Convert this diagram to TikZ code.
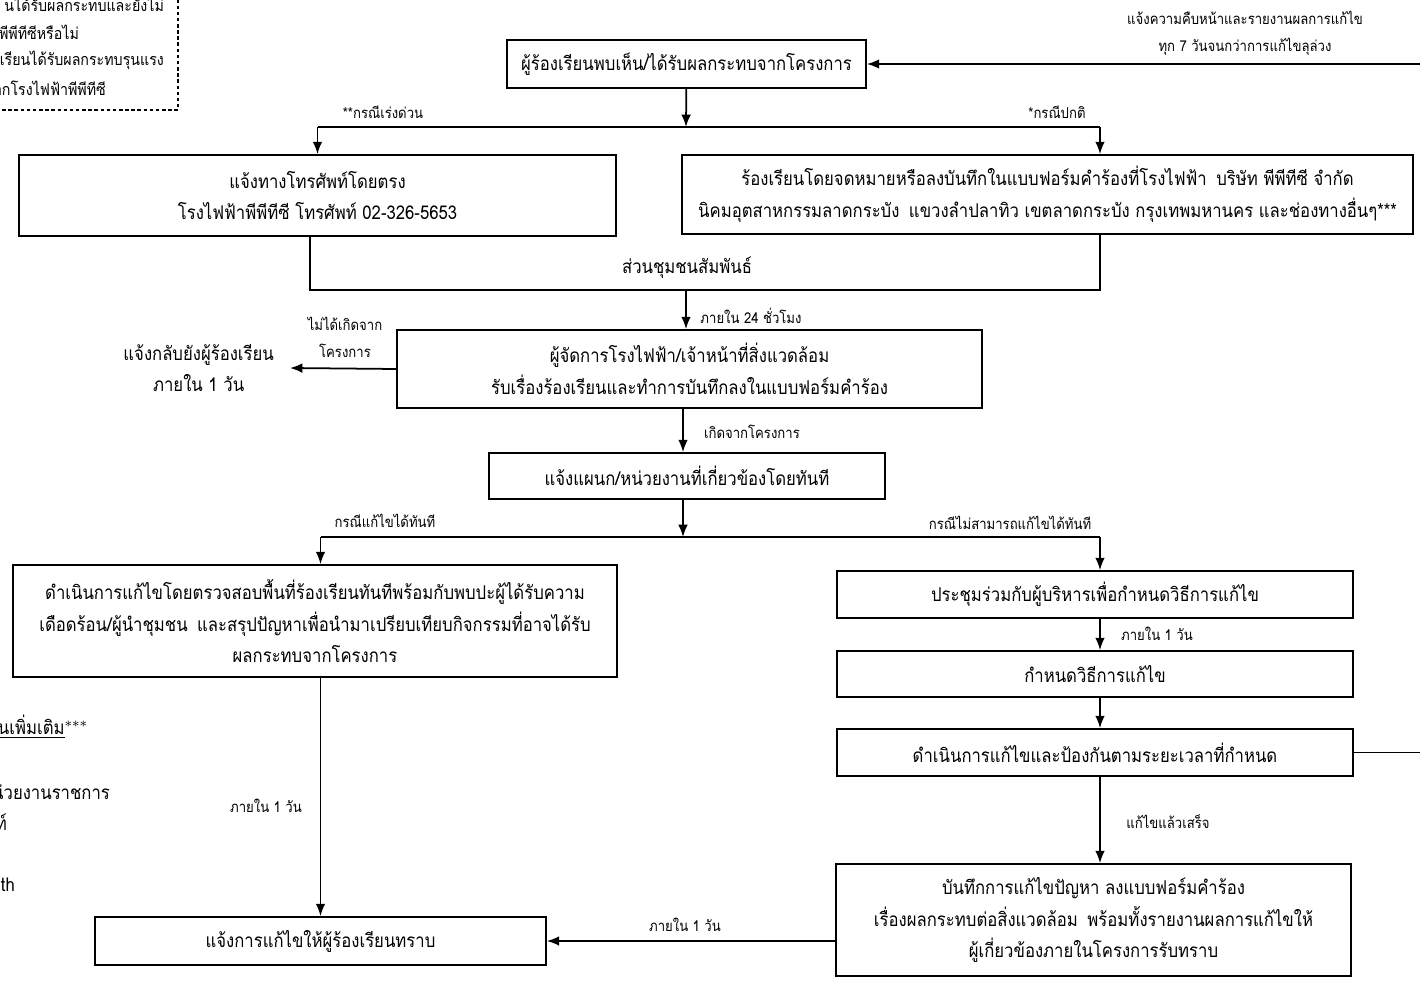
\documentclass[tikz,border=0pt]{standalone}
\usepackage{fontspec}
\setmainfont{Loma}[Script=Thai, FakeStretch=0.88]
\usetikzlibrary{arrows.meta}
\usetikzlibrary{positioning}

\newcommand{\boxfont}{\fontsize{10.8}{18}\selectfont}
\newcommand{\notefont}{\fontsize{8.5}{15.5}\selectfont}
\newcommand{\legendfont}{\fontsize{9.2}{15.5}\selectfont}

\tikzset{
	stepbox/.style={draw, line width=1pt, align=center, inner sep=0pt, font=\boxfont},
	note/.style={align=center, inner sep=1pt, font=\notefont},
	flow/.style={line width=1pt, -{Latex[length=7pt,width=5.5pt]}},
	link/.style={line width=1pt}
}

\begin{document}
\begin{tikzpicture}[x=0.02cm, y=-0.02cm]
		\useasboundingbox (0,0) rectangle (1420,983);
		\clip (0,0) rectangle (1420,983);
		
		%legend (cut at the page edge)
		\draw[line width=0.7pt, dash pattern=on 2pt off 1.5pt] (-30,-30) rectangle (178,110);
		\node[note, font=\legendfont, anchor=east] (lg1) at (166,4) {นได้รับผลกระทบและยังไม่};
		\node[note, font=\legendfont, anchor=east] (lg2) at (81,32) {พีพีทีซีหรือไม่};
		\node[note, font=\legendfont, anchor=east] (lg3) at (166,60) {เรียนได้รับผลกระทบรุนแรง};
		\node[note, font=\legendfont, anchor=east] (lg4) at (108,88) {ากโรงไฟฟ้าพีพีทีซี};
		
		%left column text (cut at the page edge)
		\node[note, anchor=east, font=\boxfont] (more) at (90,727) {\underline{นเพิ่มเติม}$^{***}$};
		\node[note, anchor=east, font=\boxfont] (gov) at (112,792) {น่วยงานราชการ};
		\node[note, anchor=east, font=\boxfont] (gov2) at (9,822) {ท์};
		\node[note, anchor=east, font=\boxfont] (web) at (17,885) {th};
		
		%boxes
		\node[stepbox, minimum width=7.18cm, minimum height=0.96cm] (top) at (686.5,64) {ผู้ร้องเรียนพบเห็น/ได้รับผลกระทบจากโครงการ};
		\node[stepbox, minimum width=11.94cm, minimum height=1.62cm] (phone) at (317.5,195.5) {แจ้งทางโทรศัพท์โดยตรง\\โรงไฟฟ้าพีพีทีซี โทรศัพท์ 02-326-5653};
		\node[stepbox, minimum width=14.62cm, minimum height=1.58cm] (letter) at (1047.5,194.5) {ร้องเรียนโดยจดหมายหรือลงบันทึกในแบบฟอร์มคำร้องที่โรงไฟฟ้า\enspace บริษัท พีพีทีซี จำกัด\\นิคมอุตสาหกรรมลาดกระบัง\enspace แขวงลำปลาทิว เขตลาดกระบัง กรุงเทพมหานคร และช่องทางอื่นๆ***};
		\node[stepbox, minimum width=11.7cm, minimum height=1.56cm] (record) at (689.5,369) {ผู้จัดการโรงไฟฟ้า/เจ้าหน้าที่สิ่งแวดล้อม\\รับเรื่องร้องเรียนและทำการบันทึกลงในแบบฟอร์มคำร้อง};
		\node[stepbox, minimum width=7.92cm, minimum height=0.92cm] (notify) at (687,476) {แจ้งแผนก/หน่วยงานที่เกี่ยวข้องโดยทันที};
		\node[stepbox, minimum width=12.08cm, minimum height=2.24cm] (fixnow) at (315,621) {ดำเนินการแก้ไขโดยตรวจสอบพื้นที่ร้องเรียนทันทีพร้อมกับพบปะผู้ได้รับความ\\เดือดร้อน/ผู้นำชุมชน\enspace และสรุปปัญหาเพื่อนำมาเปรียบเทียบกิจกรรมที่อาจได้รับ\\ผลกระทบจากโครงการ};
		\node[stepbox, minimum width=9.02cm, minimum height=0.96cm] (inform) at (320.5,941) {แจ้งการแก้ไขให้ผู้ร้องเรียนทราบ};
		\node[stepbox, minimum width=10.32cm, minimum height=0.94cm] (meet) at (1095,594.5) {ประชุมร่วมกับผู้บริหารเพื่อกำหนดวิธีการแก้ไข};
		\node[stepbox, minimum width=10.32cm, minimum height=0.92cm] (method) at (1095,674) {กำหนดวิธีการแก้ไข};
		\node[stepbox, minimum width=10.32cm, minimum height=0.94cm] (act) at (1095,752.5) {ดำเนินการแก้ไขและป้องกันตามระยะเวลาที่กำหนด};
		\node[stepbox, minimum width=10.3cm, minimum height=2.24cm] (log) at (1093.5,920) {บันทึกการแก้ไขปัญหา ลงแบบฟอร์มคำร้อง\\เรื่องผลกระทบต่อสิ่งแวดล้อม\enspace พร้อมทั้งรายงานผลการแก้ไขให้\\ผู้เกี่ยวข้องภายในโครงการรับทราบ};
		\node[note, font=\boxfont, anchor=east, inner sep=9pt] (back) at (290,368) {แจ้งกลับยังผู้ร้องเรียน\\ภายใน 1 วัน};
		
		%helper points
		\coordinate (rcol) at (1100,0);
		\coordinate (split1) at (686,127);
		\coordinate (crelmid) at (686,290);
		\coordinate (split2) at (683,537);
		
		%community relations frame
		\draw[link] (phone.south -| 310,0) |- (crelmid) -| (letter.south -| rcol);
		\node[note, font=\boxfont] (crel) at (687,268) {ส่วนชุมชนสัมพันธ์};
		
		%arrows
		\draw[flow] (top) -- (split1);
		\draw[link] (split1 -| phone.north) -- (split1 -| rcol);
		\draw[flow] (split1 -| phone.north) -- (phone.north);
		\draw[flow] (split1 -| rcol) -- (letter.north -| rcol);
		\draw[flow] (crelmid) -- (record.north -| crelmid);
		\draw[flow] (record.west) -- (back.east);
		\draw[flow] (record.south -| split2) -- (notify.north -| split2);
		\draw[flow] (notify.south -| split2) -- (split2);
		\draw[link] (split2 -| inform.north) -- (split2 -| rcol);
		\draw[flow] (split2 -| inform.north) -- (fixnow.north -| inform.north);
		\draw[flow] (split2 -| rcol) -- (meet.north -| rcol);
		\draw[flow] (fixnow.south -| inform.north) -- (inform.north);
		\draw[flow] (meet.south -| rcol) -- (method.north -| rcol);
		\draw[flow] (method.south -| rcol) -- (act.north -| rcol);
		\draw[flow] (act.south -| rcol) -- (log.north -| rcol);
		\draw[flow] (log.west |- inform.east) -- (inform.east);
		\draw[flow] (act.east) -- ++(90,0) |- (top.east);
		
		%labels
		\node[note] (urgent) at (383,112) {**กรณีเร่งด่วน};
		\node[note] (normal) at (1057,112) {*กรณีปกติ};
		\node[note] (progress) at (1245,33) {แจ้งความคืบหน้าและรายงานผลการแก้ไข\\ทุก 7 วันจนกว่าการแก้ไขลุล่วง};
		\node[note] (within24) at (751,316) {ภายใน 24 ชั่วโมง};
		\node[note] (notproj) at (345,337) {ไม่ได้เกิดจาก\\โครงการ};
		\node[note] (fromproj) at (752,432) {เกิดจากโครงการ};
		\node[note] (canfix) at (385,521) {กรณีแก้ไขได้ทันที};
		\node[note] (cannotfix) at (1010,523) {กรณีไม่สามารถแก้ไขได้ทันที};
		\node[note] (dayleft) at (266,806) {ภายใน 1 วัน};
		\node[note] (dayright) at (1157,634) {ภายใน 1 วัน};
		\node[note] (done) at (1168,822) {แก้ไขแล้วเสร็จ};
		\node[note] (daybottom) at (685,925) {ภายใน 1 วัน};
\end{tikzpicture}
\end{document}
